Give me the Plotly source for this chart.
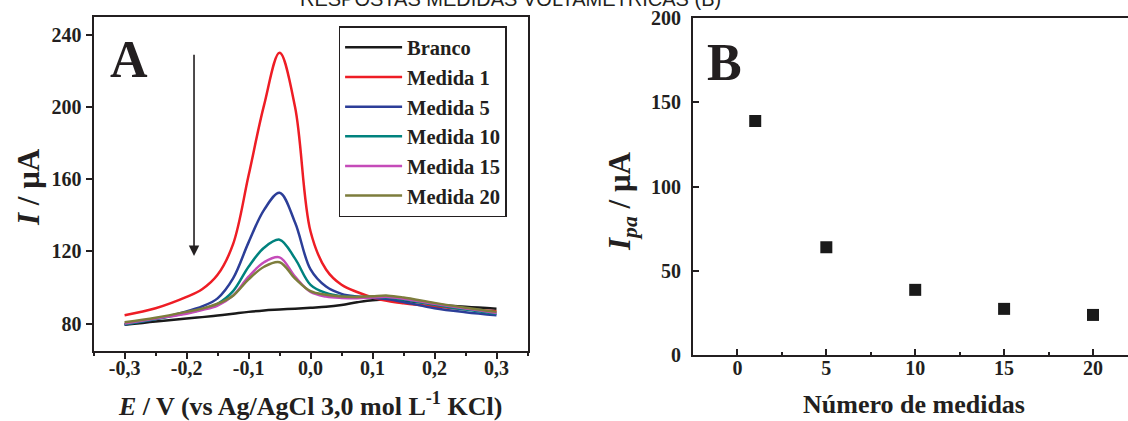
import plotly.graph_objects as go

# ---------------- data: panel A (differential pulse voltammograms) ----------------
potential_V = [-0.30, -0.25, -0.20, -0.175, -0.15, -0.125, -0.10, -0.075, -0.05, -0.025,
               0.0, 0.025, 0.05, 0.075, 0.10, 0.125, 0.15, 0.20, 0.25, 0.30]

branco = [79.3, 81.2, 82.8, 83.6, 84.5, 85.5, 86.5, 87.3, 87.8, 88.3,
          88.8, 89.3, 90.3, 91.8, 93.0, 93.3, 92.8, 90.8, 89.3, 88.3]
medida_1 = [84.6, 88.5, 94.8, 99.0, 107.0, 124.0, 162.0, 201.0, 230.0, 200.0,
            131.0, 110.0, 101.5, 97.5, 94.5, 92.5, 91.3, 89.5, 88.0, 86.8]
medida_5 = [79.5, 82.5, 86.8, 89.5, 94.0, 105.0, 125.0, 143.0, 152.5, 136.0,
            110.0, 100.5, 96.5, 95.0, 94.3, 93.5, 92.0, 88.5, 86.3, 84.6]
medida_10 = [79.6, 82.5, 85.9, 88.0, 91.0, 98.0, 111.5, 122.0, 126.5, 116.0,
             101.5, 97.0, 95.2, 94.8, 94.8, 94.5, 93.3, 90.5, 87.8, 85.5]
medida_15 = [80.0, 82.8, 85.5, 87.5, 90.0, 95.5, 106.0, 114.0, 116.7, 106.0,
             97.5, 95.0, 94.2, 94.0, 94.5, 94.8, 93.8, 91.0, 88.3, 85.9]
medida_20 = [80.8, 83.3, 86.5, 88.3, 91.0, 95.5, 104.5, 111.5, 114.0, 105.0,
             98.0, 96.0, 95.0, 94.8, 95.2, 95.5, 94.5, 91.5, 88.8, 86.5]

series_names = ["Branco", "Medida 1", "Medida 5", "Medida 10", "Medida 15", "Medida 20"]
series_values = [branco, medida_1, medida_5, medida_10, medida_15, medida_20]
series_colors = ["#1a1a1a", "#ee1d25", "#2c3e98", "#00827e", "#c54bb9", "#7d7d3c"]

# arrow showing the decrease of the peak current
arrow_E = -0.188
arrow_from_I = 230.0
arrow_to_I = 117.5

# ---------------- data: panel B (peak current vs measurement number) ----------------
numero_medidas = [1, 5, 10, 15, 20]
ipa_uA = [139.0, 64.0, 38.7, 27.4, 23.8]

x_ticks_A = [-0.3, -0.2, -0.1, 0.0, 0.1, 0.2, 0.3]
x_ticklabels_A = ["-0,3", "-0,2", "-0,1", "0,0", "0,1", "0,2", "0,3"]
y_ticks_A = [80, 120, 160, 200, 240]
x_ticks_B = [0, 5, 10, 15, 20]
y_ticks_B = [0, 50, 100, 150, 200]

SERIF = "Liberation Serif"
INK = "#231f20"
W, H = 1128, 421

fig = go.Figure()
for name, vals, col in zip(series_names, series_values, series_colors):
    fig.add_trace(go.Scatter(
        x=potential_V, y=vals, mode="lines", name=name,
        line=dict(color=col, width=2.5, shape="spline", smoothing=1.0),
        xaxis="x", yaxis="y"))

fig.add_trace(go.Scatter(
    x=numero_medidas, y=ipa_uA, mode="markers", showlegend=False,
    marker=dict(symbol="square", size=12, color="#1a1a1a"),
    xaxis="x2", yaxis="y2"))

tickfont = dict(family=SERIF, size=20, color=INK, weight="bold")


def px_x(p):
    return p / W


def px_y(p):
    return 1 - p / H


fig.update_layout(
    width=W, height=H,
    margin=dict(l=0, r=0, t=0, b=0, autoexpand=False),
    paper_bgcolor="white", plot_bgcolor="white",
    showlegend=True,
    legend=dict(
        x=px_x(338.6), y=px_y(26), xanchor="left", yanchor="top",
        bordercolor=INK, borderwidth=1.5, bgcolor="white",
        font=dict(family=SERIF, size=20.5, color=INK, weight="bold"),
        itemwidth=57, tracegroupgap=0,
    ),
    xaxis=dict(
        domain=[px_x(93.6), px_x(527.5)], range=[-0.35, 0.35], automargin=False,
        tickvals=x_ticks_A, ticktext=x_ticklabels_A,
        ticks="outside", ticklen=6, tickwidth=2, tickcolor=INK,
        minor=dict(dtick=0.05, ticks="outside", ticklen=3, tickwidth=1.5, tickcolor=INK),
        ticklabelstandoff=-8,
        showline=True, linewidth=2, linecolor=INK, mirror=True,
        showgrid=False, zeroline=False, tickfont=tickfont, anchor="y",
    ),
    yaxis=dict(
        domain=[px_y(350.7), px_y(16.7)], range=[65, 250], automargin=False,
        tickvals=y_ticks_A,
        ticks="outside", ticklen=6, tickwidth=2, tickcolor=INK,
        showline=True, linewidth=2, linecolor=INK, mirror=True,
        showgrid=False, zeroline=False, tickfont=tickfont, anchor="x",
    ),
    xaxis2=dict(
        domain=[px_x(693), 1.0], range=[-2.5, 21.97], automargin=False,
        tickvals=x_ticks_B,
        ticks="inside", ticklen=6, tickwidth=2, tickcolor=INK,
        minor=dict(dtick=2.5, ticks="inside", ticklen=3, tickwidth=1.5, tickcolor=INK),
        ticklabelstandoff=-6,
        showline=True, linewidth=2, linecolor=INK, mirror=True,
        showgrid=False, zeroline=False, tickfont=tickfont, anchor="y2",
    ),
    yaxis2=dict(
        domain=[px_y(355), px_y(18.3)], range=[0, 200], automargin=False,
        tickvals=y_ticks_B,
        ticks="inside", ticklen=6, tickwidth=2, tickcolor=INK,
        ticklabelstandoff=6,
        showline=True, linewidth=2, linecolor=INK, mirror=False,
        showgrid=False, zeroline=False, tickfont=tickfont, anchor="x2",
    ),
)

title_font = dict(family=SERIF, size=26, color=INK, weight="bold")
ytitle_font = dict(family=SERIF, size=31, color=INK, weight="bold")
letter_font = dict(family=SERIF, size=52, color=INK, weight="bold")


def paper_text(text, x, y, font, angle=0, xanchor="center", yanchor="middle"):
    return dict(text=text, x=px_x(x), y=px_y(y), xref="paper", yref="paper",
                xanchor=xanchor, yanchor=yanchor, showarrow=False,
                textangle=angle, font=font)


annotations = [
    paper_text("A", 128.5, 59, letter_font),
    paper_text("B", 724, 62, letter_font),
    paper_text("<i>E</i> / V (vs Ag/AgCl 3,0 mol L<sup>-1</sup> KCl)", 310, 404, title_font),
    paper_text("<i>I</i> / μA", 29, 187, ytitle_font, angle=-90),
    paper_text("Número de medidas", 914, 404, title_font),
    paper_text("<i>I</i><sub><i>pa</i></sub> / μA", 622, 202, ytitle_font, angle=-90),
    # heading of the page, cut off at the top edge
    paper_text("RESPOSTAS MEDIDAS VOLTAMÉTRICAS (B)", 510, 12,
               dict(family="Liberation Sans", size=20, color=INK), yanchor="bottom"),
]
fig.update_layout(annotations=annotations)

# arrow in panel A, placed on panel A's data axes
fig.add_annotation(x=arrow_E, y=arrow_to_I, ax=arrow_E, ay=arrow_from_I, xref="x", yref="y",
                   axref="x", ayref="y", showarrow=True, arrowhead=2, arrowsize=1.3,
                   arrowwidth=1.6, arrowcolor=INK, text=" ", font=dict(size=1))

fig.write_html("out.html")
